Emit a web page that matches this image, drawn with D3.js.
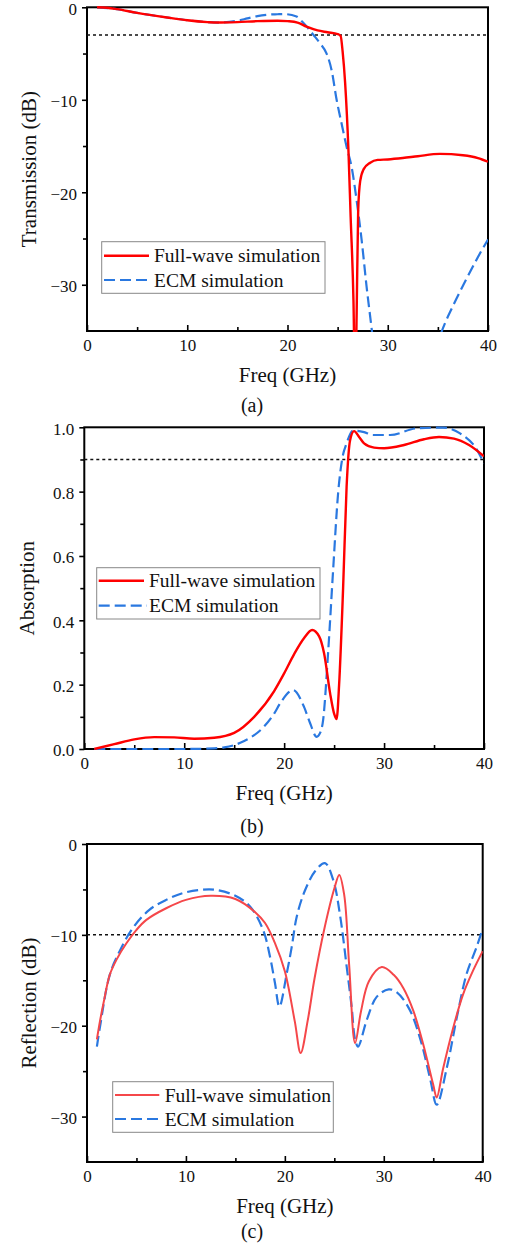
<!DOCTYPE html>
<html>
<head>
<meta charset="utf-8">
<script src="https://cdn.jsdelivr.net/npm/d3@7"></script>
<style>
  body { margin: 0; background: #fff; }
  svg { display: block; }
  svg text { font-family: 'Liberation Serif', 'Tinos', 'Times New Roman', 'DejaVu Serif', serif !important; fill: #111; }
</style>
</head>
<body>
<div id="chart"></div>
<script>
// (a) transmission, dB
const transFreqFull = [1, 2, 3, 5, 8, 10, 12, 13, 15, 17, 19, 20, 21, 21.9, 23, 24, 25, 25.3, 25.5, 25.75, 26.08, 26.3, 26.58, 26.75, 26.9, 27.05, 27.25, 27.6, 28.25, 29, 30, 31.5, 33, 35.2, 37.5, 39, 40]
const transFull = [0, -0.05, -0.2, -0.6, -1.1, -1.4, -1.6, -1.65, -1.6, -1.5, -1.45, -1.5, -1.65, -2.1, -2.5, -2.7, -2.9, -3.1, -4.8, -8.2, -15.5, -22.7, -31.7, -42, -33, -22, -18.8, -17.5, -16.8, -16.5, -16.45, -16.3, -16.1, -15.85, -16.0, -16.3, -16.7]
const transFreqEcm = [1, 3, 5, 8, 10, 12, 13, 15, 16, 17, 18, 19, 19.6, 20.9, 21.5, 22, 22.6, 23.25, 23.9, 24.4, 24.9, 25.4, 25.9, 26.4, 26.9, 27.4, 27.9, 28.3, 28.7, 30, 32, 34, 35.4, 36.5, 37.6, 39, 40]
const transEcm = [0, -0.2, -0.6, -1.1, -1.4, -1.6, -1.65, -1.45, -1.2, -0.95, -0.8, -0.75, -0.73, -1.0, -1.6, -2.2, -3.0, -3.9, -5.0, -6.8, -10, -12.6, -15.1, -17.3, -20.9, -25.2, -30.3, -33.9, -37.5, -45, -47, -40, -35, -32.3, -29.9, -27, -25.1]

// (b) absorption
const absFreqFull = [1, 3, 5, 7, 9, 11, 13, 15, 17, 19, 20, 21, 22, 22.8, 23.5, 24, 24.6, 25, 25.25, 25.5, 25.9, 26.25, 26.6, 27, 27.5, 28, 29, 30, 32, 34, 35.5, 37, 38.5, 40]
const absFull = [0, 0.015, 0.03, 0.037, 0.036, 0.032, 0.035, 0.05, 0.10, 0.18, 0.235, 0.295, 0.345, 0.37, 0.35, 0.297, 0.173, 0.11, 0.093, 0.2, 0.5, 0.815, 0.96, 0.988, 0.97, 0.95, 0.937, 0.935, 0.945, 0.963, 0.97, 0.965, 0.945, 0.91]
const absFreqEcm = [1, 5, 10, 13, 14, 15, 16, 17, 18, 19, 19.6, 20.9, 22, 22.6, 23.25, 23.6, 23.9, 24.4, 24.9, 25.4, 25.8, 26.25, 26.9, 28, 28.9, 30.6, 33.3, 35.9, 37.6, 39.3, 40]
const absEcm = [0, 0, 0, 0.002, 0.005, 0.012, 0.025, 0.043, 0.07, 0.11, 0.142, 0.183, 0.13, 0.08, 0.038, 0.05, 0.09, 0.30, 0.556, 0.795, 0.9, 0.95, 0.99, 0.985, 0.976, 0.976, 0.997, 0.999, 0.981, 0.93, 0.888]

// (c) reflection, dB
const reflFreqFull = [1, 1.33, 1.67, 2.3, 3, 4, 5, 6, 8, 10, 12.5, 15, 17, 18, 19, 20, 21, 21.6, 22.3, 23, 24, 25, 25.5, 26, 26.5, 27.1, 27.7, 28.5, 29.8, 31, 32, 33, 34, 35, 35.35, 36, 37, 38, 39, 40]
const reflFull = [-21.5, -19.4, -17.5, -14.4, -12.7, -10.9, -9.45, -8.35, -7.07, -6.15, -5.7, -6.05, -7.5, -8.7, -10.9, -14.0, -19.5, -23.0, -19.5, -14.8, -9.3, -4.9, -3.4, -5.6, -13.3, -21.9, -18.4, -15.1, -13.55, -14.4, -15.9, -18.4, -22.1, -26.5, -27.9, -24.7, -20.3, -16.6, -14.0, -11.8]
const reflFreqEcm = [1, 1.33, 2.3, 3.3, 4.6, 6.3, 8, 9.7, 11.5, 13, 15, 16.5, 17.8, 18.5, 19, 19.45, 20.2, 20.7, 21.2, 22, 23.05, 24.05, 24.9, 25.6, 26.25, 26.75, 27.1, 27.4, 28.3, 29.3, 30.5, 31.3, 32.6, 33.7, 34.7, 35.35, 36.4, 37.4, 38.4, 39.4, 40]
const reflEcm = [-22.3, -20, -14.4, -11.8, -9.3, -7.25, -6.15, -5.4, -5.05, -5.05, -5.7, -6.9, -9.45, -12.4, -15.3, -17.9, -14.2, -11.3, -8.0, -5.2, -3.0, -2.1, -4.0, -8.0, -13.5, -17.9, -21.5, -22.3, -19.3, -16.8, -16.0, -16.3, -18.2, -21.5, -25.9, -28.7, -24.5, -19.0, -14.2, -11.3, -9.3]

const xTicks = [0, 10, 20, 30, 40]
const xMinor = [5, 15, 25, 35]
const dbTicks = [0, -10, -20, -30]
const dbMinor = [-5, -15, -25]
const absTicks = [0, 0.2, 0.4, 0.6, 0.8, 1.0]
const absMinor = [0.1, 0.3, 0.5, 0.7, 0.9]
const seriesNames = ['Full-wave simulation', 'ECM simulation']

const width = 505
const height = 1245
const serif = "'Liberation Serif', 'Tinos', 'Times New Roman', 'DejaVu Serif', serif"

const svg = d3
  .select('#chart')
  .append('svg')
  .attr('width', width)
  .attr('height', height)
  .attr('font-family', serif)

const zip = (xs, ys) => xs.map((x, i) => ({ f: x, v: ys[i] }))

const panels = [
  {
    id: 'a', left: 87, right: 488, top: 7.3, bottom: 331,
    yDomain: [-35, 0], yTicks: dbTicks, yMinor: dbMinor, yFormat: d3.format('d'),
    refLine: -3, yTitle: 'Transmission (dB)', yTitleX: 29,
    full: zip(transFreqFull, transFull), ecm: zip(transFreqEcm, transEcm),
    red: '#ff0000', redWidth: 2.4, curve: d3.curveMonotoneX,
    legend: { x0: 101.7, x1: 325, y0: 241.7, y1: 293.3, lineX0: 104, lineX1: 149, textX: 154, row1: 255.7, row2: 280 },
    labelY: 412
  },
  {
    id: 'b', left: 84.3, right: 484, top: 427.3, bottom: 749,
    yDomain: [0, 1], yTicks: absTicks, yMinor: absMinor, yFormat: d3.format('.1f'),
    refLine: 0.9, yTitle: 'Absorption', yTitleX: 27,
    full: zip(absFreqFull, absFull), ecm: zip(absFreqEcm, absEcm),
    red: '#ff0000', redWidth: 2.4, curve: d3.curveMonotoneX,
    legend: { x0: 96.7, x1: 320, y0: 567.7, y1: 619, lineX0: 98.7, lineX1: 144, textX: 149, row1: 580.7, row2: 605.7 },
    labelY: 833
  },
  {
    id: 'c', left: 87, right: 482.7, top: 844, bottom: 1162,
    yDomain: [-35, 0], yTicks: dbTicks, yMinor: dbMinor, yFormat: d3.format('d'),
    refLine: -10, yTitle: 'Reflection (dB)', yTitleX: 29,
    full: zip(reflFreqFull, reflFull), ecm: zip(reflFreqEcm, reflEcm),
    red: '#f5474a', redWidth: 2, curve: d3.curveCatmullRom.alpha(0.5),
    legend: { x0: 112.7, x1: 333.3, y0: 1081.7, y1: 1132.3, lineX0: 115, lineX1: 159.3, textX: 164.7, row1: 1095, row2: 1119 },
    labelY: 1238
  }
]

const blue = '#2a78e0'

panels.forEach(p => {
  const x = d3.scaleLinear().domain([0, 40]).range([p.left, p.right])
  const y = d3.scaleLinear().domain(p.yDomain).range([p.bottom, p.top])
  const g = svg.append('g').attr('class', 'panel-' + p.id)

  g.append('clipPath')
    .attr('id', 'clip-' + p.id)
    .append('rect')
    .attr('x', p.left)
    .attr('y', p.top - 2)
    .attr('width', p.right - p.left)
    .attr('height', p.bottom - p.top + 3)

  // frame first, curves sit on top of it
  g.append('rect')
    .attr('x', p.left)
    .attr('y', p.top)
    .attr('width', p.right - p.left)
    .attr('height', p.bottom - p.top)
    .attr('fill', 'none')
    .attr('stroke', '#000')
    .attr('stroke-width', 2)

  // x axis, ticks pointing in
  const xAxis = d3.axisBottom(x).tickValues(xTicks).tickSize(-6).tickPadding(8).tickFormat(d3.format('d'))
  g.append('g')
    .attr('transform', 'translate(0,' + p.bottom + ')')
    .call(xAxis)
    .attr('font-family', serif)
    .call(ax => ax.select('.domain').remove())
    .call(ax => ax.selectAll('line').attr('stroke', '#000').attr('stroke-width', 1.6))
    .call(ax => ax.selectAll('text').style('font-size', '17px').attr('fill', '#111'))
  g.append('g')
    .attr('transform', 'translate(0,' + p.bottom + ')')
    .call(d3.axisBottom(x).tickValues(xMinor).tickSize(-4).tickFormat(''))
    .call(ax => ax.select('.domain').remove())
    .call(ax => ax.selectAll('line').attr('stroke', '#000').attr('stroke-width', 1.6))

  // y axis, ticks pointing out
  const yAxis = d3.axisLeft(y).tickValues(p.yTicks).tickSize(5).tickPadding(5).tickFormat(p.yFormat)
  g.append('g')
    .attr('transform', 'translate(' + p.left + ',0)')
    .call(yAxis)
    .attr('font-family', serif)
    .call(ax => ax.select('.domain').remove())
    .call(ax => ax.selectAll('line').attr('stroke', '#000').attr('stroke-width', 1.6))
    .call(ax => ax.selectAll('text').style('font-size', '17px').attr('fill', '#111').attr('dy', '0.4em'))
  g.append('g')
    .attr('transform', 'translate(' + p.left + ',0)')
    .call(d3.axisLeft(y).tickValues(p.yMinor).tickSize(4).tickFormat(''))
    .call(ax => ax.select('.domain').remove())
    .call(ax => ax.selectAll('line').attr('stroke', '#000').attr('stroke-width', 1.6))

  // threshold line
  g.append('line')
    .attr('x1', p.left)
    .attr('x2', p.right)
    .attr('y1', y(p.refLine))
    .attr('y2', y(p.refLine))
    .attr('stroke', '#111')
    .attr('stroke-width', 1.5)
    .attr('stroke-dasharray', '3,3')

  const line = d3
    .line()
    .x(d => x(d.f))
    .y(d => y(d.v))
    .curve(p.curve)

  const curves = g.append('g').attr('clip-path', 'url(#clip-' + p.id + ')')
  curves
    .append('path')
    .datum(p.ecm)
    .attr('d', line)
    .attr('fill', 'none')
    .attr('stroke', blue)
    .attr('stroke-width', 2.2)
    .attr('stroke-dasharray', '11,5')
  curves
    .append('path')
    .datum(p.full)
    .attr('d', line)
    .attr('fill', 'none')
    .attr('stroke', p.red)
    .attr('stroke-width', p.redWidth)

  // legend
  const L = p.legend
  g.append('rect')
    .attr('x', L.x0)
    .attr('y', L.y0)
    .attr('width', L.x1 - L.x0)
    .attr('height', L.y1 - L.y0)
    .attr('fill', '#fff')
    .attr('stroke', '#888')
    .attr('stroke-width', 1)
  g.append('line')
    .attr('x1', L.lineX0).attr('x2', L.lineX1)
    .attr('y1', L.row1).attr('y2', L.row1)
    .attr('stroke', p.red).attr('stroke-width', p.redWidth)
  g.append('line')
    .attr('x1', L.lineX0).attr('x2', L.lineX1 + 3)
    .attr('y1', L.row2).attr('y2', L.row2)
    .attr('stroke', blue).attr('stroke-width', 2.2)
    .attr('stroke-dasharray', '11,5')
  g.selectAll('.legend-text')
    .data(seriesNames)
    .enter()
    .append('text')
    .attr('class', 'legend-text')
    .attr('x', L.textX)
    .attr('y', (d, i) => (i === 0 ? L.row1 : L.row2) + 6.5)
    .style('font-size', '19.5px')
    .text(d => d)

  // titles
  g.append('text')
    .attr('transform', 'translate(' + p.yTitleX + ',' + (p.top + p.bottom) / 2 + ') rotate(-90)')
    .attr('text-anchor', 'middle')
    .attr('dy', '0.35em')
    .style('font-size', '21px')
    .text(p.yTitle)
  g.append('text')
    .attr('x', (p.left + p.right) / 2)
    .attr('y', p.bottom + 51)
    .attr('text-anchor', 'middle')
    .style('font-size', '21px')
    .text('Freq (GHz)')
  g.append('text')
    .attr('x', 252)
    .attr('y', p.labelY)
    .attr('text-anchor', 'middle')
    .style('font-size', '20px')
    .text('(' + p.id + ')')
})
</script>
</body>
</html>
